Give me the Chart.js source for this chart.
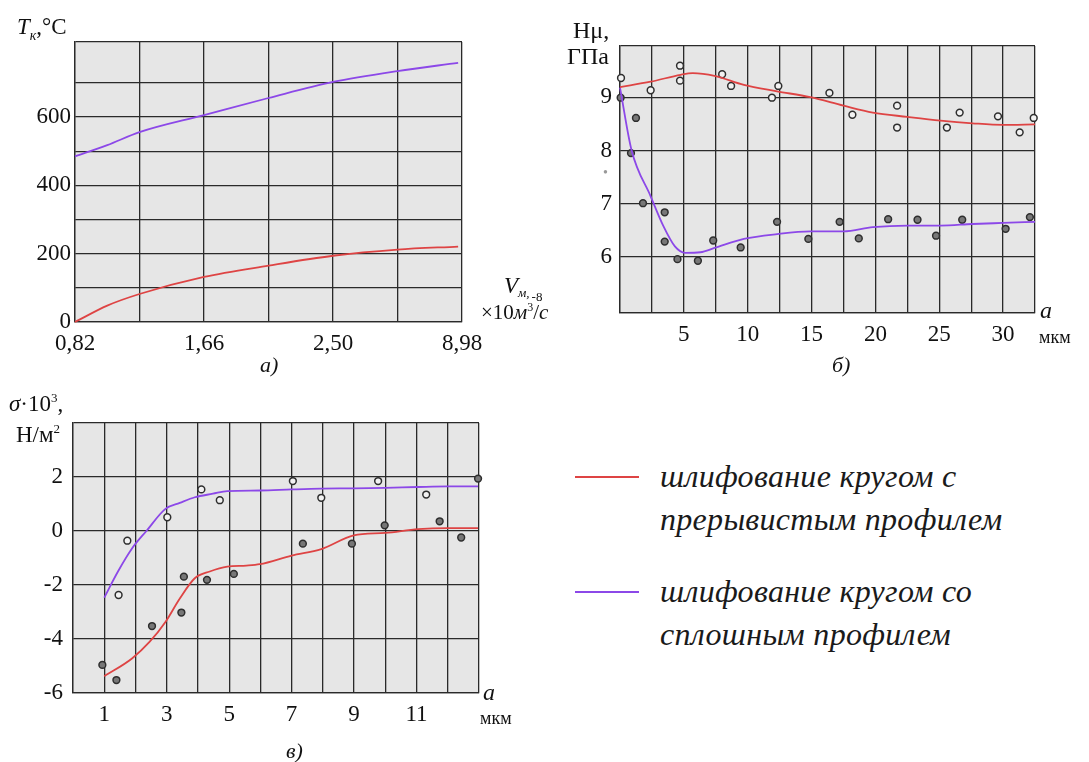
<!DOCTYPE html>
<html>
<head>
<meta charset="utf-8">
<script src="https://cdn.jsdelivr.net/npm/chart.js@4.4.1/dist/chart.umd.min.js"></script>
<style>
  body { margin: 0; background: #fff; width: 1089px; height: 762px; overflow: hidden; position: relative;
         font-family: 'Liberation Serif', 'DejaVu Serif', serif; color: #111; }
  canvas { position: absolute; }
  .t { position: absolute; white-space: nowrap; line-height: 1; }
  .i { font-style: italic; }
  .leg { position: absolute; height: 2px; width: 64px; left: 575px; }
  .lt { font-size: 32px; letter-spacing: 0.3px; color: #1a1a1a; }
</style>
</head>
<body>
<canvas id="ca" width="545" height="380" style="left:0;top:0"></canvas>
<canvas id="cb" width="544" height="380" style="left:545px;top:0"></canvas>
<canvas id="cc" width="545" height="382" style="left:0;top:380px"></canvas>

<!-- chart a texts -->
<div class="t" style="left:17px;top:15px;font-size:23px"><span class="i">T</span><span class="i" style="font-size:14px;position:relative;top:6px">к</span>,°C</div>
<div class="t" style="left:504px;top:274px;font-size:23px"><span class="i">V</span><span class="i" style="font-size:13px;position:relative;top:4px">м,</span><span style="font-size:13px;position:relative;top:8px;left:2px">-8</span></div>
<div class="t" style="left:481px;top:302px;font-size:21px">×10<span class="i">м</span><span style="font-size:12px;position:relative;top:-8px">3</span>/<span class="i">с</span></div>
<div class="t i" style="left:260px;top:354px;font-size:22px">а)</div>

<!-- chart b texts -->
<div class="t" style="left:573px;top:18px;font-size:24px">Hμ,</div>
<div class="t" style="left:567px;top:44px;font-size:24px">ГПа</div>
<div class="t" style="left:603px;top:166px;font-size:14px;color:#999">•</div>
<div class="t i" style="left:1040px;top:298px;font-size:24px">a</div>
<div class="t" style="left:1039px;top:328px;font-size:18px">мкм</div>
<div class="t i" style="left:832px;top:354px;font-size:22px">б)</div>

<!-- chart c texts -->
<div class="t" style="left:9px;top:392px;font-size:23px"><span class="i">σ</span>·10<span style="font-size:13px;position:relative;top:-9px">3</span>,</div>
<div class="t" style="left:16px;top:423px;font-size:23px">Н/м<span style="font-size:13px;position:relative;top:-9px">2</span></div>
<div class="t i" style="left:483px;top:680px;font-size:24px">a</div>
<div class="t" style="left:480px;top:709px;font-size:18px">мкм</div>
<div class="t i" style="left:286px;top:740px;font-size:22px">в)</div>

<!-- legend -->
<div class="leg" style="top:476px;background:#de4444"></div>
<div class="leg" style="top:591px;background:#8c48e8"></div>
<div class="t i lt" style="left:660px;top:460px">шлифование кругом с</div>
<div class="t i lt" style="left:660px;top:503px">прерывистым профилем</div>
<div class="t i lt" style="left:660px;top:575px">шлифование кругом со</div>
<div class="t i lt" style="left:660px;top:618px">сплошным профилем</div>

<script>
const RED = '#de4444';
const PURPLE = '#8c48e8';

// chart a: contact temperature vs feed
const aXLabels = ['0,82', '', '1,66', '', '2,50', '', '8,98'];
const aX = [0, 0.5, 1, 2, 3, 4, 5, 5.94];
const aRed = [0, 48, 82, 132, 165, 194, 212, 221];
const aPurple = [485, 518, 556, 606, 656, 703, 735, 759];
const aYTicks = [0, 100, 200, 300, 400, 500, 600, 700, 820];

// chart b: microhardness vs depth
const bRedX = [0, 2.4, 4.75, 5.7, 7.4, 9.7, 12.3, 14.9, 17.5, 19.8, 22.5, 25.1, 27.6, 30, 32.5];
const bRed = [9.19, 9.29, 9.42, 9.45, 9.40, 9.23, 9.11, 9.0, 8.84, 8.71, 8.63, 8.56, 8.51, 8.48, 8.49];
const bPurpleX = [0, 0.9, 2.4, 3.4, 4.3, 5.1, 6.3, 7.4, 9.7, 12.3, 14.9, 17.5, 19.8, 22.5, 25.1, 27.6, 30, 32.5];
const bPurple = [9.18, 8.01, 7.14, 6.58, 6.2, 6.08, 6.09, 6.17, 6.34, 6.43, 6.48, 6.48, 6.56, 6.59, 6.59, 6.62, 6.64, 6.66];
const bOpenX = [0.08, 2.4, 4.7, 4.7, 8.0, 8.7, 11.9, 12.4, 16.4, 18.2, 21.7, 21.7, 25.6, 26.6, 29.6, 31.3, 32.4];
const bOpenY = [9.36, 9.13, 9.59, 9.31, 9.43, 9.21, 8.99, 9.21, 9.08, 8.67, 8.84, 8.43, 8.43, 8.71, 8.64, 8.34, 8.61];
const bFillX = [0.05, 1.25, 0.86, 1.8, 3.5, 3.5, 4.5, 6.1, 7.3, 9.45, 12.3, 14.75, 17.2, 18.7, 21.0, 23.3, 24.75, 26.8, 30.2, 32.1];
const bFillY = [8.99, 8.61, 7.95, 7.01, 6.84, 6.29, 5.96, 5.93, 6.31, 6.18, 6.66, 6.34, 6.66, 6.35, 6.71, 6.70, 6.40, 6.70, 6.53, 6.75];
const bYTicks = [4.95, 6, 7, 8, 9, 9.96];

// chart c: residual stress vs depth
const cRedX = [1, 1.9, 2.45, 2.96, 3.42, 3.9, 4.38, 4.94, 5.55, 5.98, 7.0, 7.95, 8.99, 10.0, 11.05, 12.0, 12.97];
const cRed = [-5.38, -4.71, -4.11, -3.37, -2.5, -1.75, -1.5, -1.32, -1.28, -1.23, -0.91, -0.67, -0.16, -0.07, 0.07, 0.11, 0.11];
const cPurpleX = [1, 1.44, 1.9, 2.35, 2.96, 3.42, 3.9, 4.48, 4.94, 5.98, 7.0, 7.95, 8.99, 10.0, 11.05, 12.0, 12.97];
const cPurple = [-2.47, -1.5, -0.63, 0.0, 0.82, 1.04, 1.25, 1.38, 1.48, 1.50, 1.54, 1.57, 1.58, 1.60, 1.63, 1.65, 1.65];
const cOpenX = [1.74, 1.46, 3.02, 4.11, 4.7, 7.04, 7.95, 9.77, 11.31];
const cOpenY = [-0.36, -2.37, 0.51, 1.54, 1.14, 1.85, 1.23, 1.85, 1.35];
const cFillX = [0.94, 1.39, 2.53, 3.47, 3.55, 4.29, 5.15, 7.36, 8.93, 9.98, 11.74, 12.43, 12.97];
const cFillY = [-4.96, -5.52, -3.52, -3.02, -1.69, -1.81, -1.59, -0.47, -0.47, 0.21, 0.36, -0.24, 1.94];

const plotBg = {
  id: 'plotBg',
  beforeDraw(chart) {
    const { ctx, chartArea: a } = chart;
    ctx.save();
    ctx.fillStyle = '#e6e6e6';
    ctx.fillRect(a.left, a.top, a.right - a.left, a.bottom - a.top);
    ctx.restore();
  }
};

function xy(xs, ys) {
  return xs.map((x, i) => ({ x: x, y: ys[i] }));
}

function curve(xs, ys, color) {
  return {
    data: xy(xs, ys), showLine: true, borderColor: color, borderWidth: 1.8,
    pointRadius: 0, cubicInterpolationMode: 'monotone', clip: false
  };
}

function dots(xs, ys, fill) {
  return {
    data: xy(xs, ys), showLine: false, pointRadius: 3.4, pointBackgroundColor: fill,
    pointBorderColor: '#2e2e2e', pointBorderWidth: 1.5, clip: false
  };
}

const tickFont = { family: 'Liberation Serif', size: 23 };

function draw(id, datasets, o) {
  new Chart(document.getElementById(id), {
    type: 'scatter',
    data: { datasets: datasets },
    plugins: [plotBg],
    options: {
      responsive: false,
      animation: false,
      events: [],
      layout: { padding: { top: o.top, right: o.right, left: 0, bottom: 0 } },
      plugins: { legend: { display: false }, tooltip: { enabled: false } },
      scales: {
        x: {
          type: 'linear', min: o.xMin, max: o.xMax,
          afterFit: s => { s.height = o.xH; },
          grid: { color: '#2a2a2a', lineWidth: 1.3, drawTicks: false },
          border: { color: '#2a2a2a', width: 1.3 },
          ticks: { stepSize: o.xStep, autoSkip: false, maxRotation: 0, padding: 8,
                   font: tickFont, color: '#111', callback: o.xLabel }
        },
        y: {
          type: 'linear', min: o.yMin, max: o.yMax,
          afterFit: s => { s.width = o.yW; },
          afterBuildTicks: s => { if (o.yTicks) s.ticks = o.yTicks.map(v => ({ value: v })); },
          grid: { color: '#2a2a2a', lineWidth: 1.3, drawTicks: false },
          border: { color: '#2a2a2a', width: 1.3 },
          ticks: { stepSize: o.yStep, autoSkip: false, padding: o.yPad,
                   font: tickFont, color: '#111', callback: o.yLabel }
        }
      }
    }
  });
}

draw('ca', [curve(aX, aPurple, PURPLE), curve(aX, aRed, RED)], {
  top: 42, right: 83, xH: 58, yW: 75, yPad: 4,
  xMin: 0, xMax: 6, xStep: 1, xLabel: v => aXLabels[v] || '',
  yMin: 0, yMax: 820, yTicks: aYTicks, yLabel: v => (v % 200 === 0 && v <= 600) ? v : ''
});

draw('cb', [curve(bRedX, bRed, RED), curve(bPurpleX, bPurple, PURPLE),
            dots(bOpenX, bOpenY, '#f2f2f2'), dots(bFillX, bFillY, '#777')], {
  top: 46, right: 54, xH: 67, yW: 75, yPad: 8,
  xMin: 0, xMax: 32.5, xStep: 2.5, xLabel: v => (v > 0 && v % 5 === 0) ? v : '',
  yMin: 4.95, yMax: 9.96, yTicks: bYTicks, yLabel: v => Number.isInteger(v) ? v : ''
});

draw('cc', [curve(cRedX, cRed, RED), curve(cPurpleX, cPurple, PURPLE),
            dots(cOpenX, cOpenY, '#f2f2f2'), dots(cFillX, cFillY, '#777')], {
  top: 43, right: 66, xH: 69, yW: 73, yPad: 10,
  xMin: 0, xMax: 13, xStep: 1, xLabel: v => (v % 2 === 1 && v <= 11) ? v : '',
  yMin: -6, yMax: 4, yStep: 2, yLabel: v => v < 4 ? v : ''
});
</script>
</body>
</html>
